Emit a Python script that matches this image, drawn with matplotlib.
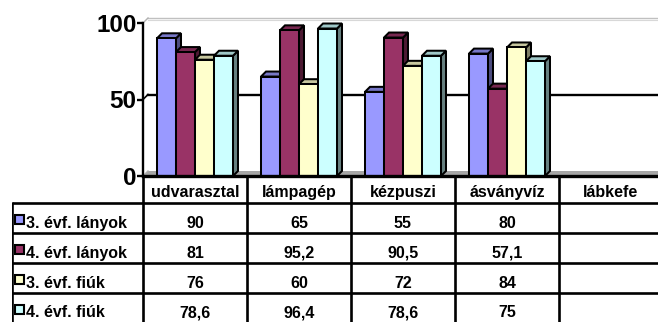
import matplotlib
matplotlib.use("Agg")
import matplotlib.pyplot as plt
from matplotlib.patches import Polygon, Rectangle
import matplotlib.colors as mcolors

categories = ["udvarasztal", "lámpagép", "kézpuszi", "ásványvíz", "lábkefe"]
series_names = ["3. évf. lányok", "4. évf. lányok", "3. évf. fiúk", "4. évf. fiúk"]
lanyok_3 = [90, 65, 55, 80, None]
lanyok_4 = [81, 95.2, 90.5, 57.1, None]
fiuk_3 = [76, 60, 72, 84, None]
fiuk_4 = [78.6, 96.4, 78.6, 75, None]
series_values = [lanyok_3, lanyok_4, fiuk_3, fiuk_4]
y_ticks = [0, 50, 100]

colors = ["#9999FF", "#993366", "#FFFFCC", "#CCFFFF"]

plt.rcParams['font.family'] = ['Liberation Sans', 'DejaVu Sans']
plt.rcParams['font.weight'] = 'bold'

W, H, DPI = 658, 322, 100
fig = plt.figure(figsize=(W / DPI, H / DPI), dpi=DPI)

# pixel layout
x0 = 143          # left edge of category area
col_w = 104       # width of one category column
y_zero = 176      # pixel row of value 0 (from top)
ppu = 1.53        # pixels per value unit
ymax = 104
depth_px = 5

ax = fig.add_axes([x0 / W, (H - y_zero) / H, 5 * col_w / W, ymax * ppu / H])
ax.set_xlim(0, 5)
ax.set_ylim(0, ymax)
ddx = depth_px / col_w
ddy = depth_px / ppu


def shade(c, f):
    r, g, b = mcolors.to_rgb(c)
    return (r * f, g * f, b * f)


# floor
ax.add_patch(Polygon([(0, 0), (5.2, 0), (5.2 + ddx, ddy), (ddx, ddy)],
                     closed=True, facecolor="#A6A6A6", edgecolor="none",
                     zorder=1, clip_on=False))
ax.plot([0, ddx], [0, ddy], color="#B0B0B0", lw=1, zorder=1.5, clip_on=False)

# back wall gridlines
ax.plot([ddx, 5.2], [50 + ddy, 50 + ddy], color="black", lw=1.7, zorder=1, clip_on=False)
ax.plot([0, ddx], [50, 50 + ddy], color="black", lw=1.2, zorder=1, clip_on=False)
ax.plot([ddx, 5.2], [100 + ddy, 100 + ddy], color="#C0C0C0", lw=1.0, zorder=1, clip_on=False)
ax.plot([ddx, 5.2], [100 + ddy - 1.1, 100 + ddy - 1.1], color="#D8D8D8", lw=0.8, zorder=1, clip_on=False)
ax.plot([0, ddx], [100, 100 + ddy], color="#B0B0B0", lw=1.0, zorder=1, clip_on=False)

# 3D bars
n = len(series_values)
bw = 19 / col_w
group_w = n * bw
z = 2
for i in range(len(categories)):
    for j, vals in enumerate(series_values):
        v = vals[i]
        if v is None:
            continue
        left = i + 0.5 - group_w / 2 + j * bw
        c = colors[j]
        side = Polygon([(left + bw, 0), (left + bw + ddx, ddy),
                        (left + bw + ddx, v + ddy), (left + bw, v)],
                       closed=True, facecolor=shade(c, 0.5), edgecolor="black",
                       lw=1.45, zorder=z, joinstyle="miter")
        top = Polygon([(left, v), (left + bw, v), (left + bw + ddx, v + ddy),
                       (left + ddx, v + ddy)],
                      closed=True, facecolor=shade(c, 0.78), edgecolor="black",
                      lw=1.45, zorder=z, joinstyle="miter")
        front = Rectangle((left, 0), bw, v, facecolor=c, edgecolor="black",
                          lw=1.45, zorder=z + 0.5, joinstyle="miter")
        ax.add_patch(side)
        ax.add_patch(top)
        ax.add_patch(front)
        z += 1

# axes styling
for s in ["top", "right"]:
    ax.spines[s].set_visible(False)
ax.spines["left"].set_bounds(0, 100)
ax.spines["left"].set_linewidth(1.7)
ax.spines["bottom"].set_linewidth(2.4)
ax.spines["bottom"].set_zorder(50)
ax.set_xticks([])
ax.set_yticks(y_ticks)
ax.set_yticklabels([str(t) for t in y_ticks], fontsize=17.5, fontweight="bold")
ax.tick_params(axis="y", direction="out", length=4, width=1.7, pad=0.5)
ax.patch.set_visible(False)

# data table
row_edges = [0, 27, 57, 87, 117, 146]
table_left = (12 - x0) / col_w
tax = fig.add_axes([12 / W, 0, (x0 + 5 * col_w - 12) / W, 146 / H])
tax.set_xlim(table_left, 5)
tax.set_ylim(146, 0)
tax.set_axis_off()

lw_t = 1.9
for yy in row_edges[1:5]:
    tax.plot([table_left, 5], [yy, yy], color="black", lw=lw_t, solid_capstyle="butt")
for k in range(6):
    tax.plot([k, k], [0, 146], color="black", lw=lw_t, solid_capstyle="butt")
tax.plot([table_left, table_left], [row_edges[1] - 0.9, 146], color="black", lw=lw_t,
         solid_capstyle="butt")

fs = 11.5
for i, cat in enumerate(categories):
    tax.text(i + 0.5, row_edges[1] - 6, cat, ha="center", va="baseline",
             fontsize=fs, fontweight="bold")


def fmt(v):
    if v is None:
        return ""
    if float(v).is_integer():
        return str(int(v))
    return str(v).replace(".", ",")


for j, (name, vals) in enumerate(zip(series_names, series_values)):
    bottom = row_edges[j + 2]
    top_e = row_edges[j + 1]
    mid = (bottom + top_e) / 2
    key = 9
    tax.add_patch(Rectangle((table_left + 3 / col_w, mid - key / 2 + 1.5),
                            key / col_w, key, facecolor=colors[j],
                            edgecolor="black", lw=1.5))
    tax.text(table_left + 14 / col_w, bottom - 5, name, ha="left",
             va="baseline", fontsize=fs, fontweight="bold")
    for i, v in enumerate(vals):
        tax.text(i + 0.5, bottom - 5, fmt(v), ha="center", va="baseline",
                 fontsize=fs, fontweight="bold")

fig.savefig("out.png", dpi=DPI)
